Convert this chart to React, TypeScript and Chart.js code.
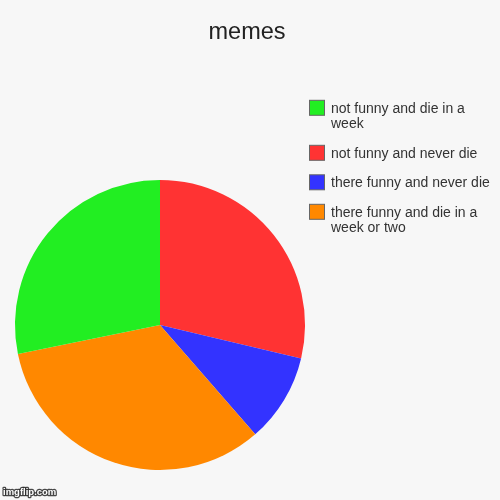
import { useEffect, useRef } from "react";
import { Chart, registerables } from "chart.js";

Chart.register(...registerables);

const chartTitle = "memes";
const categories = [
  "not funny and never die",
  "there funny and never die",
  "there funny and die in a week or two",
  "not funny and die in a week",
];
const values = [28.7, 9.9, 33.2, 28.2];
const sliceColors = ["#ff3333", "#3333ff", "#ff8800", "#22ee22"];
const legendOrder = [3, 0, 1, 2];
const watermark = "imgflip.com";

const FONT = "'Liberation Sans', Arial, sans-serif";

function wrap(ctx: CanvasRenderingContext2D, text: string, maxW: number): string[] {
  const words = text.split(" ");
  const lines: string[] = [];
  let cur = "";
  for (const w of words) {
    const test = cur ? cur + " " + w : w;
    if (ctx.measureText(test).width > maxW && cur) {
      lines.push(cur);
      cur = w;
    } else {
      cur = test;
    }
  }
  if (cur) lines.push(cur);
  return lines;
}

const bgPlugin = {
  id: "bg",
  beforeDraw(chart: any) {
    const { ctx, width, height } = chart;
    ctx.save();
    ctx.fillStyle = "#f7f7f7";
    ctx.fillRect(0, 0, width, height);
    ctx.restore();
  },
};

const sideLegendPlugin = {
  id: "sideLegend",
  afterDraw(chart: any) {
    const ctx: CanvasRenderingContext2D = chart.ctx;
    const data = chart.data;
    const ds = data.datasets[0];
    ctx.save();
    // title
    ctx.font = `23.5px ${FONT}`;
    ctx.textAlign = "center";
    ctx.textBaseline = "alphabetic";
    ctx.fillStyle = "#222222";
    ctx.fillText(chartTitle, chart.width / 2 - 3, 38.5);
    // legend
    ctx.font = `14px ${FONT}`;
    ctx.textBaseline = "middle";
    ctx.textAlign = "left";
    const lineH = 15.5;
    const gap = 29.5;
    let y = 108.8;
    for (const idx of legendOrder) {
      const label = data.labels[idx] as string;
      const lines = wrap(ctx, label, 162);
      ctx.fillStyle = ds.backgroundColor[idx];
      ctx.fillRect(309.5, y - 8.5, 15, 15);
      ctx.strokeStyle = "#666666";
      ctx.lineWidth = 1;
      ctx.strokeRect(309.5, y - 8.5, 15, 15);
      ctx.fillStyle = "#333333";
      lines.forEach((ln, i) => ctx.fillText(ln, 331, y + i * lineH));
      y += (lines.length - 1) * lineH + gap;
    }
    // watermark
    ctx.font = `bold 9.5px ${FONT}`;
    ctx.textBaseline = "alphabetic";
    ctx.lineWidth = 2.5;
    ctx.strokeStyle = "rgba(40,40,40,0.85)";
    ctx.lineJoin = "round";
    ctx.strokeText(watermark, 3, 495);
    ctx.fillStyle = "#ffffff";
    ctx.fillText(watermark, 3, 495);
    ctx.restore();
  },
};

export default function App() {
  const ref = useRef<HTMLCanvasElement | null>(null);
  useEffect(() => {
    if (!ref.current) return;
    const chart = new Chart(ref.current, {
      type: "pie",
      data: {
        labels: categories,
        datasets: [
          {
            data: values,
            backgroundColor: sliceColors,
            borderWidth: 0,
            hoverOffset: 0,
          },
        ],
      },
      options: {
        animation: false,
        responsive: true,
        maintainAspectRatio: false,
        layout: { padding: { top: 180, left: 15, right: 195, bottom: 30 } },
        plugins: {
          legend: { display: false },
          tooltip: { enabled: false },
          title: { display: false },
        },
      },
      plugins: [bgPlugin, sideLegendPlugin],
    });
    return () => chart.destroy();
  }, []);
  return (
    <div style={{ position: "fixed", left: 0, top: 0, width: 500, height: 500, background: "#f7f7f7" }}>
      <canvas ref={ref} />
    </div>
  );
}
